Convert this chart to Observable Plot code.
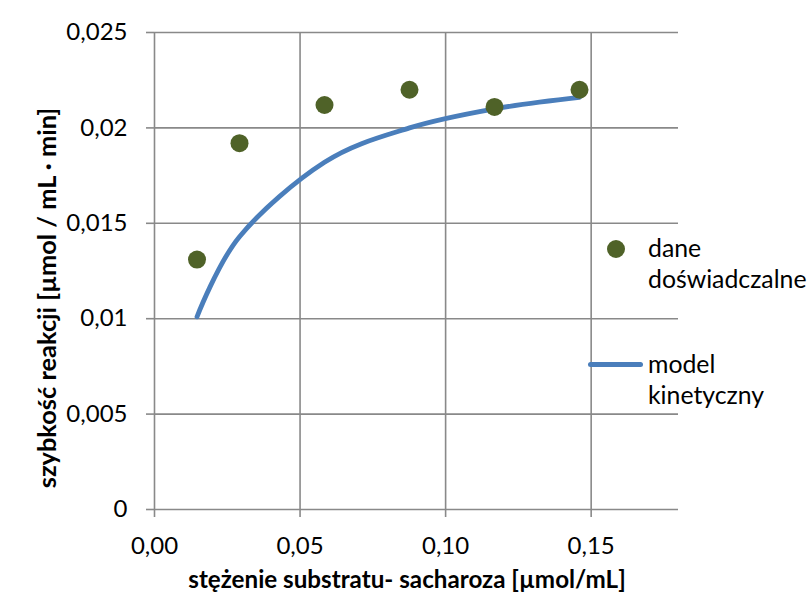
<!DOCTYPE html>
<html>
<head>
<meta charset="utf-8">
<script src="https://cdn.jsdelivr.net/npm/d3@7"></script>
<script src="https://cdn.jsdelivr.net/npm/@observablehq/plot@0.6"></script>
<style>
  html, body { margin: 0; padding: 0; background: #fff; }
  #wrap { position: relative; width: 808px; height: 597px; font-family: Lato, sans-serif; color: #000; }
  .t { position: absolute; white-space: nowrap; font-size: 24px; line-height: 24px; }
  .b { font-weight: bold; }
  .leg { position: absolute; font-size: 24.8px; line-height: 31px; white-space: nowrap; }
  .dot { position: absolute; width: 18px; height: 18px; border-radius: 50%; background: #4f6228; }
  .seg { position: absolute; height: 5px; border-radius: 3px; background: #4a7ebb; }
</style>
</head>
<body>
<div id="wrap"></div>
<script>
// data
const concentration = [0.0146, 0.0292, 0.0584, 0.0876, 0.1168, 0.146];
const measured = [0.0131, 0.0192, 0.0212, 0.0220, 0.0211, 0.0220];
const model = [0.0101, 0.0143, 0.0182, 0.0200, 0.0210, 0.0216];
const xTicks = [0, 0.05, 0.10, 0.15];
const xTickLabels = ["0,00", "0,05", "0,10", "0,15"];
const yTicks = [0, 0.005, 0.01, 0.015, 0.02, 0.025];
const yTickLabels = ["0", "0,005", "0,01", "0,015", "0,02", "0,025"];
const xTitle = "stężenie substratu- sacharoza [µmol/mL]";
const yTitle = "szybkość reakcji [µmol / mL · min]";
const legendLabels = [["dane", "doświadczalne"], ["model", "kinetyczny"]];

const pts = concentration.map((x, i) => ({x, y: measured[i]}));
const mdl = concentration.map((x, i) => ({x, y: model[i]}));
const grid = "#898989";

const chart = Plot.plot({
  width: 808,
  height: 597,
  marginLeft: 154,
  marginRight: 130,
  marginTop: 32,
  marginBottom: 88,
  style: {fontFamily: "Lato, sans-serif", fontSize: "24px", background: "#fff", color: "#000"},
  x: {domain: [0, 0.18]},
  y: {domain: [0, 0.025]},
  marks: [
    Plot.ruleX(xTicks, {stroke: grid, strokeWidth: 1.6}),
    Plot.ruleY(yTicks, {stroke: grid, strokeWidth: 1.6}),
    Plot.axisX(xTicks, {tickSize: 8, tickPadding: 19, stroke: grid, strokeWidth: 1.6, fill: "#000", fontSize: 24,
      tickFormat: d => xTickLabels[xTicks.indexOf(d)], label: null}),
    Plot.axisY(yTicks, {tickSize: 8, tickPadding: 19, stroke: grid, strokeWidth: 1.6, fill: "#000", fontSize: 24,
      tickFormat: d => yTickLabels[yTicks.indexOf(d)], label: null}),
    Plot.line(mdl, {x: "x", y: "y", stroke: "#4a7ebb", strokeWidth: 4.8, curve: "cardinal", strokeLinecap: "round", strokeLinejoin: "round"}),
    Plot.dot(pts, {x: "x", y: "y", r: 9, fill: "#4f6228", stroke: "none"})
  ]
});

const wrap = document.getElementById("wrap");
wrap.appendChild(chart);

// axis titles
const xt = document.createElement("div");
xt.className = "t b";
xt.textContent = xTitle;
xt.style.left = "407px";
xt.style.top = "567px";
xt.style.fontSize = "24.2px";
xt.style.transform = "translateX(-50%)";
wrap.appendChild(xt);

const yt = document.createElement("div");
yt.className = "t b";
yt.textContent = yTitle;
yt.style.fontSize = "25.4px";
yt.style.lineHeight = "25px";
yt.style.left = "59px";
yt.style.top = "298px";
yt.style.transformOrigin = "0 0";
yt.style.transform = "rotate(-90deg) translate(-50%, -100%)";
wrap.appendChild(yt);

// legend
const d = document.createElement("div");
d.className = "dot";
d.style.left = "607px"; d.style.top = "240px";
wrap.appendChild(d);
const l1 = document.createElement("div");
l1.className = "leg";
l1.style.left = "648px"; l1.style.top = "232px";
l1.innerHTML = legendLabels[0].join("<br>");
wrap.appendChild(l1);

const s = document.createElement("div");
s.className = "seg";
s.style.left = "588px"; s.style.top = "361.5px"; s.style.width = "55px";
wrap.appendChild(s);
const l2 = document.createElement("div");
l2.className = "leg";
l2.style.left = "648px"; l2.style.top = "348px";
l2.innerHTML = legendLabels[1].join("<br>");
wrap.appendChild(l2);
</script>
</body>
</html>
